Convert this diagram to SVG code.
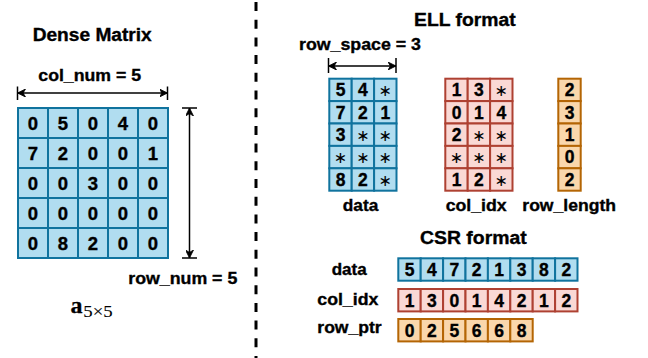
<svg xmlns="http://www.w3.org/2000/svg" width="648" height="358" viewBox="0 0 648 358">
<style>
text{font-family:"Liberation Sans",Arial,sans-serif;font-weight:bold;fill:#000;stroke:#000;stroke-width:0.35}
.t{font-size:18px;text-anchor:start}
.l{font-size:16.5px;text-anchor:start}
.d{font-size:17.5px;text-anchor:middle}
.dd{font-size:18.5px;text-anchor:middle}
.s{font-family:"DejaVu Sans",sans-serif;font-weight:normal;font-size:16px;text-anchor:middle;stroke:none}
.b rect{fill:#b1ddf0;stroke:#10739e;stroke-width:2}
.r rect{fill:#fad9d5;stroke:#ae4132;stroke-width:2}
.o rect{fill:#fad7ac;stroke:#b46504;stroke-width:2}
.ln{stroke:#000;stroke-width:1.5;fill:none}
.ar{stroke:#000;stroke-width:1.5;fill:none;marker-start:url(#ah);marker-end:url(#ah)}
</style>
<defs>
<marker id="ah" viewBox="0 0 10 10" refX="10" refY="5" markerWidth="8" markerHeight="8" orient="auto-start-reverse" markerUnits="userSpaceOnUse">
<path d="M0,0 L10,5 L0,10 L3,5 z" fill="#000" stroke="#000" stroke-width="1"/>
</marker>
</defs>
<rect width="648" height="358" fill="#fff"/>

<g id="divider"><line x1="256" y1="2" x2="256" y2="358" stroke="#000" stroke-width="3" stroke-dasharray="9 8.7"/></g>

<g id="dense-title"><text class="t" x="32.7" y="40.7" textLength="119" lengthAdjust="spacingAndGlyphs">Dense Matrix</text></g>

<g id="dense-matrix" class="b">
<rect x="18" y="108" width="30" height="30"/><rect x="48" y="108" width="30" height="30"/><rect x="78" y="108" width="30" height="30"/><rect x="108" y="108" width="30" height="30"/><rect x="138" y="108" width="30" height="30"/>
<rect x="18" y="138" width="30" height="30"/><rect x="48" y="138" width="30" height="30"/><rect x="78" y="138" width="30" height="30"/><rect x="108" y="138" width="30" height="30"/><rect x="138" y="138" width="30" height="30"/>
<rect x="18" y="168" width="30" height="30"/><rect x="48" y="168" width="30" height="30"/><rect x="78" y="168" width="30" height="30"/><rect x="108" y="168" width="30" height="30"/><rect x="138" y="168" width="30" height="30"/>
<rect x="18" y="198" width="30" height="30"/><rect x="48" y="198" width="30" height="30"/><rect x="78" y="198" width="30" height="30"/><rect x="108" y="198" width="30" height="30"/><rect x="138" y="198" width="30" height="30"/>
<rect x="18" y="228" width="30" height="30"/><rect x="48" y="228" width="30" height="30"/><rect x="78" y="228" width="30" height="30"/><rect x="108" y="228" width="30" height="30"/><rect x="138" y="228" width="30" height="30"/>
<text class="dd" x="33" y="129.7">0</text><text class="dd" x="63" y="129.7">5</text><text class="dd" x="93" y="129.7">0</text><text class="dd" x="123" y="129.7">4</text><text class="dd" x="153" y="129.7">0</text>
<text class="dd" x="33" y="159.7">7</text><text class="dd" x="63" y="159.7">2</text><text class="dd" x="93" y="159.7">0</text><text class="dd" x="123" y="159.7">0</text><text class="dd" x="153" y="159.7">1</text>
<text class="dd" x="33" y="189.7">0</text><text class="dd" x="63" y="189.7">0</text><text class="dd" x="93" y="189.7">3</text><text class="dd" x="123" y="189.7">0</text><text class="dd" x="153" y="189.7">0</text>
<text class="dd" x="33" y="219.7">0</text><text class="dd" x="63" y="219.7">0</text><text class="dd" x="93" y="219.7">0</text><text class="dd" x="123" y="219.7">0</text><text class="dd" x="153" y="219.7">0</text>
<text class="dd" x="33" y="249.7">0</text><text class="dd" x="63" y="249.7">8</text><text class="dd" x="93" y="249.7">2</text><text class="dd" x="123" y="249.7">0</text><text class="dd" x="153" y="249.7">0</text>
</g>

<g id="col-num-label"><text class="l" x="38.3" y="81" textLength="102.7" lengthAdjust="spacingAndGlyphs">col_num = 5</text></g>
<g id="row-num-label"><text class="l" x="128.3" y="284" textLength="109" lengthAdjust="spacingAndGlyphs">row_num = 5</text></g>
<g id="a-label">
<text x="70.5" y="312.7" style="font-family:'Liberation Serif',serif;font-weight:bold;font-size:24px;stroke-width:0.3">a</text>
<text x="83.3" y="316.7" textLength="29.4" lengthAdjust="spacingAndGlyphs" style="font-family:'Liberation Serif',serif;font-weight:normal;font-size:17px;stroke-width:0.1">5×5</text>
</g>

<g id="ell-title"><text class="t" x="414" y="26" textLength="101.7" lengthAdjust="spacingAndGlyphs">ELL format</text></g>
<g id="row-space-label"><text class="l" x="299" y="50" textLength="122" lengthAdjust="spacingAndGlyphs">row_space = 3</text></g>

<g id="ell-data" class="b">
<rect x="329.3" y="78.7" width="22.4" height="22.4"/><rect x="351.7" y="78.7" width="22.4" height="22.4"/><rect x="374.1" y="78.7" width="22.4" height="22.4"/>
<rect x="329.3" y="101.1" width="22.4" height="22.4"/><rect x="351.7" y="101.1" width="22.4" height="22.4"/><rect x="374.1" y="101.1" width="22.4" height="22.4"/>
<rect x="329.3" y="123.5" width="22.4" height="22.4"/><rect x="351.7" y="123.5" width="22.4" height="22.4"/><rect x="374.1" y="123.5" width="22.4" height="22.4"/>
<rect x="329.3" y="145.9" width="22.4" height="22.4"/><rect x="351.7" y="145.9" width="22.4" height="22.4"/><rect x="374.1" y="145.9" width="22.4" height="22.4"/>
<rect x="329.3" y="168.3" width="22.4" height="22.4"/><rect x="351.7" y="168.3" width="22.4" height="22.4"/><rect x="374.1" y="168.3" width="22.4" height="22.4"/>
<text class="d" x="340.5" y="96.2">5</text><text class="d" x="362.9" y="96.2">4</text><text class="s" x="385.3" y="96">∗</text>
<text class="d" x="340.5" y="118.6">7</text><text class="d" x="362.9" y="118.6">2</text><text class="d" x="385.3" y="118.6">1</text>
<text class="d" x="340.5" y="141">3</text><text class="s" x="362.9" y="140.8">∗</text><text class="s" x="385.3" y="140.8">∗</text>
<text class="s" x="340.5" y="163.2">∗</text><text class="s" x="362.9" y="163.2">∗</text><text class="s" x="385.3" y="163.2">∗</text>
<text class="d" x="340.5" y="185.8">8</text><text class="d" x="362.9" y="185.8">2</text><text class="s" x="385.3" y="185.6">∗</text>
</g>

<g id="ell-col-idx" class="r">
<rect x="445.3" y="78.7" width="22.4" height="22.4"/><rect x="467.7" y="78.7" width="22.4" height="22.4"/><rect x="490.1" y="78.7" width="22.4" height="22.4"/>
<rect x="445.3" y="101.1" width="22.4" height="22.4"/><rect x="467.7" y="101.1" width="22.4" height="22.4"/><rect x="490.1" y="101.1" width="22.4" height="22.4"/>
<rect x="445.3" y="123.5" width="22.4" height="22.4"/><rect x="467.7" y="123.5" width="22.4" height="22.4"/><rect x="490.1" y="123.5" width="22.4" height="22.4"/>
<rect x="445.3" y="145.9" width="22.4" height="22.4"/><rect x="467.7" y="145.9" width="22.4" height="22.4"/><rect x="490.1" y="145.9" width="22.4" height="22.4"/>
<rect x="445.3" y="168.3" width="22.4" height="22.4"/><rect x="467.7" y="168.3" width="22.4" height="22.4"/><rect x="490.1" y="168.3" width="22.4" height="22.4"/>
<text class="d" x="456.5" y="96.2">1</text><text class="d" x="478.9" y="96.2">3</text><text class="s" x="501.3" y="96">∗</text>
<text class="d" x="456.5" y="118.6">0</text><text class="d" x="478.9" y="118.6">1</text><text class="d" x="501.3" y="118.6">4</text>
<text class="d" x="456.5" y="141">2</text><text class="s" x="478.9" y="140.8">∗</text><text class="s" x="501.3" y="140.8">∗</text>
<text class="s" x="456.5" y="163.2">∗</text><text class="s" x="478.9" y="163.2">∗</text><text class="s" x="501.3" y="163.2">∗</text>
<text class="d" x="456.5" y="185.8">1</text><text class="d" x="478.9" y="185.8">2</text><text class="s" x="501.3" y="185.6">∗</text>
</g>

<g id="ell-row-length" class="o">
<rect x="558.3" y="78.7" width="22.4" height="22.4"/>
<rect x="558.3" y="101.1" width="22.4" height="22.4"/>
<rect x="558.3" y="123.5" width="22.4" height="22.4"/>
<rect x="558.3" y="145.9" width="22.4" height="22.4"/>
<rect x="558.3" y="168.3" width="22.4" height="22.4"/>
<text class="d" x="569.5" y="96.2">2</text>
<text class="d" x="569.5" y="118.6">3</text>
<text class="d" x="569.5" y="141">1</text>
<text class="d" x="569.5" y="163.4">0</text>
<text class="d" x="569.5" y="185.8">2</text>
</g>

<g id="ell-labels">
<text class="l" x="342.7" y="210.7" textLength="35.6" lengthAdjust="spacingAndGlyphs">data</text>
<text class="l" x="445.7" y="210.7" textLength="61" lengthAdjust="spacingAndGlyphs">col_idx</text>
<text class="l" x="522.3" y="210.7" textLength="93.7" lengthAdjust="spacingAndGlyphs">row_length</text>
</g>

<g id="csr-title"><text class="t" x="420" y="244" textLength="106.7" lengthAdjust="spacingAndGlyphs">CSR format</text></g>

<g id="csr-labels">
<text class="l" x="331.7" y="275" textLength="35" lengthAdjust="spacingAndGlyphs">data</text>
<text class="l" x="317.3" y="305" textLength="61" lengthAdjust="spacingAndGlyphs">col_idx</text>
<text class="l" x="317.3" y="333" textLength="64.4" lengthAdjust="spacingAndGlyphs">row_ptr</text>
</g>

<g id="csr-data" class="b">
<rect x="398.3" y="258.3" width="22.4" height="22.4"/><rect x="420.7" y="258.3" width="22.4" height="22.4"/><rect x="443.1" y="258.3" width="22.4" height="22.4"/><rect x="465.5" y="258.3" width="22.4" height="22.4"/><rect x="487.9" y="258.3" width="22.4" height="22.4"/><rect x="510.3" y="258.3" width="22.4" height="22.4"/><rect x="532.7" y="258.3" width="22.4" height="22.4"/><rect x="555.1" y="258.3" width="22.4" height="22.4"/>
<text class="d" x="409.5" y="275.8">5</text><text class="d" x="431.9" y="275.8">4</text><text class="d" x="454.3" y="275.8">7</text><text class="d" x="476.7" y="275.8">2</text><text class="d" x="499.1" y="275.8">1</text><text class="d" x="521.5" y="275.8">3</text><text class="d" x="543.9" y="275.8">8</text><text class="d" x="566.3" y="275.8">2</text>
</g>

<g id="csr-col-idx" class="r">
<rect x="398.3" y="289" width="22.4" height="22.4"/><rect x="420.7" y="289" width="22.4" height="22.4"/><rect x="443.1" y="289" width="22.4" height="22.4"/><rect x="465.5" y="289" width="22.4" height="22.4"/><rect x="487.9" y="289" width="22.4" height="22.4"/><rect x="510.3" y="289" width="22.4" height="22.4"/><rect x="532.7" y="289" width="22.4" height="22.4"/><rect x="555.1" y="289" width="22.4" height="22.4"/>
<text class="d" x="409.5" y="306.5">1</text><text class="d" x="431.9" y="306.5">3</text><text class="d" x="454.3" y="306.5">0</text><text class="d" x="476.7" y="306.5">1</text><text class="d" x="499.1" y="306.5">4</text><text class="d" x="521.5" y="306.5">2</text><text class="d" x="543.9" y="306.5">1</text><text class="d" x="566.3" y="306.5">2</text>
</g>

<g id="csr-row-ptr" class="o">
<rect x="398.3" y="319" width="22.4" height="22.4"/><rect x="420.7" y="319" width="22.4" height="22.4"/><rect x="443.1" y="319" width="22.4" height="22.4"/><rect x="465.5" y="319" width="22.4" height="22.4"/><rect x="487.9" y="319" width="22.4" height="22.4"/><rect x="510.3" y="319" width="22.4" height="22.4"/>
<text class="d" x="409.5" y="336.5">0</text><text class="d" x="431.9" y="336.5">2</text><text class="d" x="454.3" y="336.5">5</text><text class="d" x="476.7" y="336.5">6</text><text class="d" x="499.1" y="336.5">6</text><text class="d" x="521.5" y="336.5">8</text>
</g>

<g id="connectors">
<line class="ln" x1="17.5" y1="86.5" x2="17.5" y2="100"/>
<line class="ln" x1="167.5" y1="86.5" x2="167.5" y2="100"/>
<line class="ar" x1="17.5" y1="93" x2="167.5" y2="93"/>
<line class="ln" x1="182" y1="108" x2="197" y2="108"/>
<line class="ln" x1="182" y1="258" x2="197" y2="258"/>
<line class="ar" x1="189.5" y1="108" x2="189.5" y2="258"/>
<line class="ln" x1="328.5" y1="58" x2="328.5" y2="73"/>
<line class="ln" x1="396" y1="58" x2="396" y2="73"/>
<line class="ar" x1="328.5" y1="66" x2="396" y2="66"/>
</g>
</svg>
